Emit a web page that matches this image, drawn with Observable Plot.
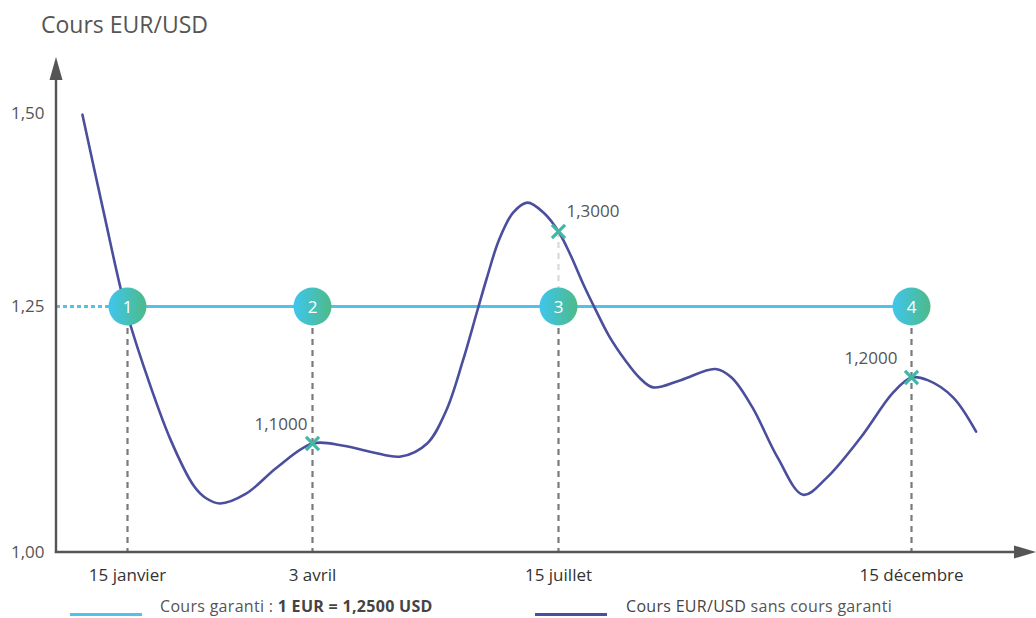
<!DOCTYPE html>
<html><head><meta charset="utf-8">
<script src="https://cdn.jsdelivr.net/npm/d3@7"></script>
<script src="https://cdn.jsdelivr.net/npm/@observablehq/plot@0.6"></script>
<style>
body{margin:0;background:#fff;font-family:"Open Sans",sans-serif;overflow:hidden;width:1036px;height:618px;}
#title{height:48px;box-sizing:border-box;padding:7px 0 0 41px;font-size:23px;color:#555;line-height:34px;}
#chart svg{display:block}
#legend{position:relative;height:22px;font-size:16px;color:#555;}
#legend .ln{position:absolute;top:17px;width:72px;height:3px;}
#legend .tx{position:absolute;top:0;line-height:20px;white-space:nowrap;letter-spacing:0.3px;}
</style></head><body>
<div id="title">Cours EUR/USD</div>
<div id="chart"></div>
<div id="legend">
  <div class="ln" style="left:70px;background:#4fc3ea"></div>
  <div class="tx" style="left:160px">Cours garanti : <b style="color:#444">1 EUR = 1,2500 USD</b></div>
  <div class="ln" style="left:535px;background:#4b4e9d"></div>
  <div class="tx" style="left:626px"><span style="color:#444">Cours EUR/USD</span> sans cours garanti</div>
</div>
<script>
// ---- data ----
const curveDates = ["2022-12-27","2023-01-05","2023-01-14","2023-01-22","2023-02-02","2023-02-12","2023-02-17","2023-02-23","2023-03-06","2023-03-19","2023-04-03","2023-04-16","2023-04-28","2023-05-10","2023-05-21","2023-05-29","2023-06-05","2023-06-11","2023-06-15","2023-06-20","2023-06-26","2023-07-02","2023-07-09","2023-07-15","2023-07-20","2023-07-26","2023-07-31","2023-08-06","2023-08-13","2023-08-19","2023-08-25","2023-09-06","2023-09-21","2023-09-28","2023-10-07","2023-10-18","2023-10-29","2023-11-08","2023-11-23","2023-12-07","2023-12-15","2023-12-22","2024-01-02","2024-01-12"];
const curveValues = [1.498,1.332,1.250,1.207,1.107,1.061,1.050,1.045,1.054,1.078,1.100,1.098,1.092,1.088,1.100,1.150,1.212,1.247,1.269,1.294,1.332,1.349,1.331,1.300,1.285,1.264,1.248,1.229,1.212,1.200,1.185,1.196,1.206,1.200,1.155,1.087,1.053,1.068,1.109,1.177,1.200,1.196,1.170,1.118];
const keyDates = ["2023-01-15","2023-04-03","2023-07-15","2023-12-15"];
const keyLabels = ["15 janvier","3 avril","15 juillet","15 décembre"];
const keyNumbers = ["1","2","3","4"];
const guaranteedRate = 1.25;
const markerDates = ["2023-04-03","2023-07-15","2023-12-15"];
const markerValues = [1.10, 1.30, 1.20];
const yTicks = [1.00, 1.25, 1.50];
// schematic (non-linear) axis breakpoints of the original drawing
const yBreaks = [1.00, 1.10, 1.20, 1.25, 1.30, 1.50];

// ---- tables ----
const parse = d3.utcParse("%Y-%m-%d");
const curve = curveDates.map((d, i) => ({date: parse(d), value: curveValues[i]}));
const keys = keyDates.map((d, i) => ({date: parse(d), label: keyLabels[i], num: keyNumbers[i], rate: guaranteedRate}));
const fr = d3.formatLocale({decimal: ",", thousands: " ", grouping: [3], currency: ["", " €"]});
const fmt4 = fr.format(".4f"), fmt2 = fr.format(".2f");
const markers = markerDates.map((d, i) => ({date: parse(d), value: markerValues[i], label: fmt4(markerValues[i])}));

const W = 1036, H = 548, mL = 56, mT = 9, mR = 0, mB = 44;
const tickDates = keys.map(k => k.date);
const xRange = [127, 312, 558, 911];
// date that sits on the y axis line (left edge of the frame)
const xOrigin = d3.scaleUtc().domain(tickDates).range(xRange).invert(mL);
const yBase = yBreaks[0];

const svg = Plot.plot({
  width: W, height: H,
  marginLeft: mL, marginTop: mT, marginRight: mR, marginBottom: mB,
  style: {fontFamily: "Open Sans, sans-serif", fontSize: "17px", color: "#555", background: "transparent", overflow: "visible"},
  x: {type: "utc", domain: tickDates, range: xRange,
      ticks: tickDates, tickFormat: d => keyLabels[tickDates.findIndex(k => +k === +d)],
      tickSize: 0, tickPadding: 16, label: null},
  y: {type: "linear", domain: yBreaks, range: [504, 395, 329, 258, 183, 65],
      ticks: yTicks, tickFormat: d => fmt2(d), tickSize: 0, tickPadding: 12, label: null},
  marks: [
    // vertical dashed guides
    Plot.ruleX(keys, {x: "date", y1: "rate", y2: yBase, stroke: "#7a7a7a", strokeWidth: 2.2, strokeDasharray: "6,5"}),
    Plot.ruleX([markers[1]], {x: "date", y1: "value", y2: guaranteedRate, stroke: "#d9d9d9", strokeWidth: 2.2, strokeDasharray: "6,5"}),
    // guaranteed rate
    Plot.ruleY([guaranteedRate], {x1: xOrigin, x2: keys[0].date, stroke: "#4fc3ea", strokeWidth: 3, strokeDasharray: "4,3"}),
    Plot.line(keys, {x: "date", y: "rate", stroke: "#4fc3ea", strokeWidth: 3}),
    // market rate
    Plot.line(curve, {x: "date", y: "value", stroke: "#4b4e9d", strokeWidth: 2.6, curve: "catmull-rom"}),
    // crosses
    Plot.dot(markers, {x: "date", y: "value", symbol: "times", r: 6, stroke: "#3fb8a6", strokeWidth: 3.2}),
    Plot.text([markers[0]], {x: "date", y: "value", text: "label", textAnchor: "end", dx: -5, dy: -19, fill: "#555", fontSize: 17}),
    Plot.text([markers[1]], {x: "date", y: "value", text: "label", textAnchor: "start", dx: 8, dy: -20, fill: "#555", fontSize: 17}),
    Plot.text([markers[2]], {x: "date", y: "value", text: "label", textAnchor: "end", dx: -14, dy: -19, fill: "#555", fontSize: 17}),
    // numbered circles
    Plot.dot(keys, {x: "date", y: "rate", r: 19, fill: "url(#numGrad)", stroke: "none"}),
    Plot.text(keys, {x: "date", y: "rate", text: "num", fill: "white", fontSize: 17, dy: 1})
  ]
});

// gradient + axis lines with arrows
const s = d3.select(svg);
const defs = s.insert("defs", ":first-child");
const gr = defs.append("linearGradient").attr("id", "numGrad").attr("x1", 0).attr("x2", 1).attr("y1", 0).attr("y2", 0);
gr.append("stop").attr("offset", "0%").attr("stop-color", "#3fc6ee");
gr.append("stop").attr("offset", "100%").attr("stop-color", "#4dba88");

const ax = s.append("g");
ax.append("line").attr("x1", mL).attr("x2", mL).attr("y1", H - mB + 1).attr("y2", mT + 20)
  .attr("stroke", "#555").attr("stroke-width", 2.4);
ax.append("path").attr("d", `M${mL},${mT}L${mL + 6.5},${mT + 23}L${mL - 6.5},${mT + 23}Z`).attr("fill", "#555");
ax.append("line").attr("x1", mL - 1.2).attr("x2", W - mR - 18).attr("y1", H - mB).attr("y2", H - mB)
  .attr("stroke", "#555").attr("stroke-width", 2.4);
ax.append("path").attr("d", `M${W - mR},${H - mB}L${W - mR - 22},${H - mB - 6.5}L${W - mR - 22},${H - mB + 6.5}Z`).attr("fill", "#555");

s.selectAll('[aria-label^="x-axis"]').style("fill", "#333").style("font-weight", 500);

document.getElementById("chart").appendChild(svg);
</script>
</body></html>
